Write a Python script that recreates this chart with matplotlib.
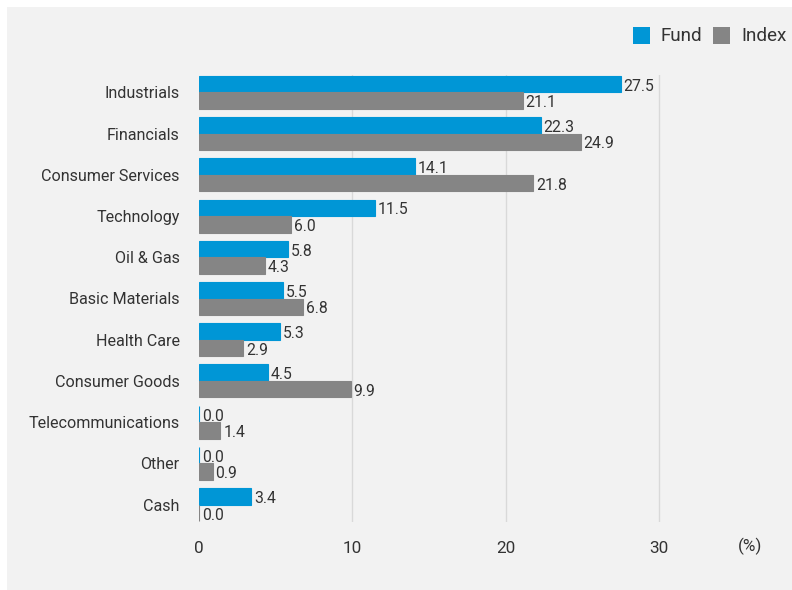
import numpy as np
import matplotlib.pyplot as plt
from matplotlib.patches import Rectangle

sectors = ['Industrials', 'Financials', 'Consumer Services', 'Technology', 'Oil & Gas',
           'Basic Materials', 'Health Care', 'Consumer Goods', 'Telecommunications',
           'Other', 'Cash']
fund = [27.5, 22.3, 14.1, 11.5, 5.8, 5.5, 5.3, 4.5, 0.0, 0.0, 3.4]
index = [21.1, 24.9, 21.8, 6.0, 4.3, 6.8, 2.9, 9.9, 1.4, 0.9, 0.0]

fund_color = '#0096d6'
index_color = '#858585'
bg = '#f2f2f2'
txt = '#333333'

plt.rcParams['font.family'] = ['Roboto', 'DejaVu Sans']

fig = plt.figure(figsize=(7.92, 5.9), dpi=100)
fig.patch.set_facecolor('white')
fig.add_artist(Rectangle((7 / 792, 0), 1, 1 - 7 / 590, transform=fig.transFigure,
                         facecolor=bg, edgecolor='none', zorder=-10))

ax = fig.add_axes([199 / 792, 1 - 522 / 590, 536.7 / 792, 447 / 590])
ax.patch.set_alpha(0)

y = np.arange(len(sectors))
h = 0.4
b1 = ax.barh(y - h / 2, fund, height=h, color=fund_color, edgecolor=fund_color, linewidth=0.8, zorder=3)
b2 = ax.barh(y + h / 2, index, height=h, color=index_color, edgecolor=index_color, linewidth=0.8, zorder=3)

for bars, vals in [(b1, fund), (b2, index)]:
    for bar, v in zip(bars, vals):
        ax.annotate(f'{v:.1f}', (v, bar.get_y() + bar.get_height() / 2),
                    xytext=(2, -1.5), textcoords='offset points',
                    ha='left', va='center', fontsize=11.3, color=txt, zorder=4)

ax.set_xlim(0, 35)
ax.set_ylim(len(sectors) - 1 + 0.42, -0.42)
ax.set_yticks(y)
ax.set_yticklabels(sectors, fontsize=11.6, color=txt)
ax.set_xticks([0, 10, 20, 30])
ax.set_xticklabels(['0', '10', '20', '30'], fontsize=12.3, color=txt)
ax.tick_params(axis='y', length=0, pad=14)
ax.tick_params(axis='x', length=0, pad=14)
for s in ax.spines.values():
    s.set_visible(False)
for xv in [10, 20, 30]:
    ax.axvline(xv, color='#d9d9d9', linewidth=1, zorder=1)

fig.text(750 / 792, 1 - 546 / 590, '(%)', fontsize=12.3, color=txt, ha='center', va='center')

# legend
for x0, lab, c in [(633, 'Fund', fund_color), (713, 'Index', index_color)]:
    fig.add_artist(Rectangle((x0 / 792, 1 - 44 / 590), 17 / 792, 17 / 590,
                             transform=fig.transFigure, facecolor=c, edgecolor='none'))
    fig.text((x0 + 28) / 792, 1 - 36 / 590, lab, fontsize=13.6, color=txt, ha='left', va='center')

fig.savefig('out.png', dpi=100, facecolor=fig.get_facecolor())
